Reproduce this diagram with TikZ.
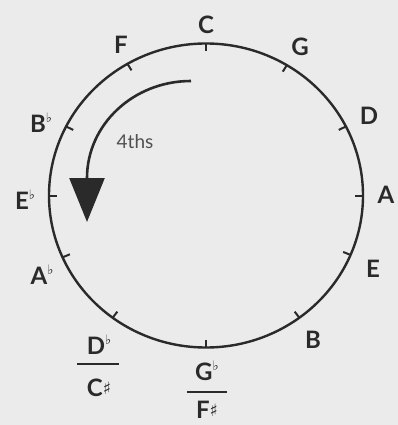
\documentclass[tikz,border=0pt]{standalone}
\usepackage{fontspec}
\setmainfont{Lato}
\newfontfamily\symf{DejaVu Sans}
\usetikzlibrary{arrows.meta}
\definecolor{bg}{RGB}{235,235,235}
\definecolor{ink}{RGB}{42,42,42}
\definecolor{soft}{RGB}{80,80,80}
\newcommand{\fl}{\raisebox{0.40em}{\symf\bfseries\fontsize{13}{13}\selectfont ♭}}
\newcommand{\shp}{\raisebox{0.08em}{\symf\bfseries\fontsize{17}{17}\selectfont ♯}}
\tikzset{
  circ/.style={draw=ink, line width=2.4pt},
  tickline/.style={draw=ink, line width=2pt},
  lab/.style={text=ink, inner sep=0pt, font=\bfseries\fontsize{24}{28}\selectfont},
  fracbar/.style={draw=ink, line width=2.6pt},
  arr/.style={draw=ink, line width=2.6pt, -{Triangle[width=35pt,length=44pt]}},
}
\begin{document}
\begin{tikzpicture}[x=1pt,y=-1pt]
\fill[bg] (0,0) rectangle (398,425);
\useasboundingbox (0,0) rectangle (398,425);
\coordinate (O) at (206,195.5);
\draw[circ] (O) ellipse [x radius=157, y radius=152];
\foreach \a in {90,59,27,0,-23,-53.5,-90,-126.5,-156,180,153,120} {
  \draw[tickline] ({206+157*cos(\a)},{195.5-152*sin(\a)}) -- ({206+149*cos(\a)},{195.5-144.5*sin(\a)});
}
\node[lab] (C) at (206,25) {C};
\node[lab] (G) at (300,47) {G};
\node[lab] (D) at (369,116) {D};
\node[lab] (A) at (386,195) {A};
\node[lab] (E) at (373,269) {E};
\node[lab] (B) at (313,340) {B};
\node[lab] (F) at (121,45) {F};
\node[lab] (Bb) at (41,123) {B\fl};
\node[lab] (Eb) at (25,200) {E\fl};
\node[lab] (Ab) at (42,275) {A\fl};
\node[lab] (Db) at (99,345) {D\fl};
\node[lab] (Cs) at (99,388) {C\shp};
\coordinate (db1) at (77,364);
\coordinate (db2) at (119,364);
\draw[fracbar] (db1) -- (db2);
\node[lab] (Gb) at (207,371) {G\fl};
\node[lab] (Fs) at (207,410) {F\shp};
\coordinate (gb1) at (187,392);
\coordinate (gb2) at (227,392);
\draw[fracbar] (gb1) -- (gb2);
\node[text=soft, inner sep=0pt, font=\fontsize{19}{22}\selectfont] (ths) at (135,142) {4ths};
\coordinate (as) at (191,81);
\coordinate (ae) at (87,222);
\draw[arr] (as) .. controls (133,81) and (87,125) .. (87,178) -- (ae);
\end{tikzpicture}
\end{document}
